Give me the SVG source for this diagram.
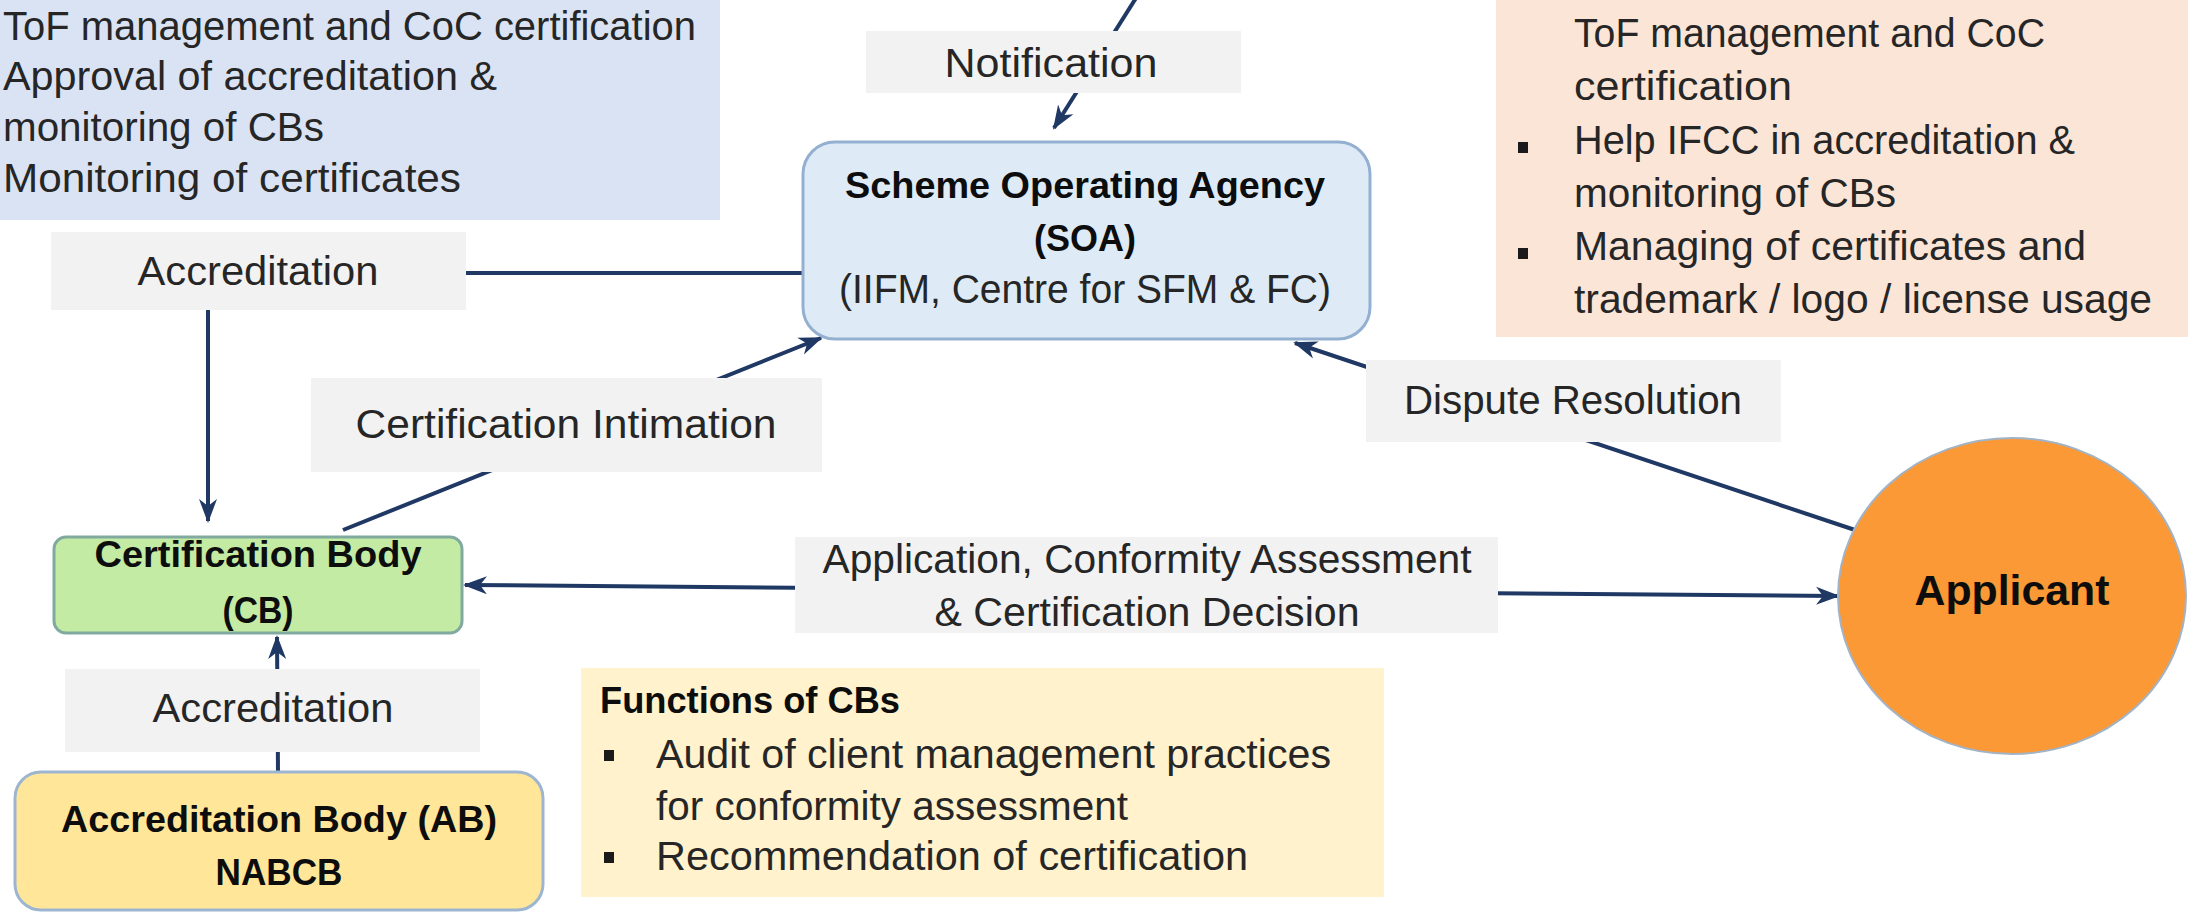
<svg xmlns="http://www.w3.org/2000/svg" width="2191" height="914" viewBox="0 0 2191 914">
  <defs>
    <style>
      .t { font-family: "Liberation Sans", Arial, sans-serif; font-size: 40px; fill: #262626; }
      .b { font-family: "Liberation Sans", Arial, sans-serif; font-weight: bold; fill: #0d0d0d; }
      .mid { text-anchor: middle; }
      .lbl { fill: #f2f2f2; }
      .conn { fill: none; stroke: #203864; stroke-width: 4; }
      .bullet { fill: #1a1a1a; }
    </style>
    <marker id="arrow" markerUnits="userSpaceOnUse" viewBox="0 0 24 20" markerWidth="24" markerHeight="20" refX="22" refY="10" orient="auto-start-reverse">
      <path d="M0,1 L24,10 L0,19 L7,10 Z" fill="#203864"/>
    </marker>
  </defs>

  <rect width="2191" height="914" fill="#ffffff"/>

  <!-- IFCC responsibilities panel -->
  <g id="ifcc-panel">
    <rect x="-10" y="-10" width="730" height="230" fill="#dae3f3"/>
    <text class="t" x="3" y="40" textLength="693" lengthAdjust="spacingAndGlyphs">ToF management and CoC certification</text>
    <text class="t" x="3" y="90" textLength="494" lengthAdjust="spacingAndGlyphs">Approval of accreditation &amp;</text>
    <text class="t" x="3" y="141" textLength="321" lengthAdjust="spacingAndGlyphs">monitoring of CBs</text>
    <text class="t" x="3" y="192" textLength="458" lengthAdjust="spacingAndGlyphs">Monitoring of certificates</text>
  </g>

  <!-- SOA functions panel -->
  <g id="soa-panel">
    <rect x="1496" y="-10" width="692" height="347" fill="#fbe5d6"/>
    <text class="t" x="1574" y="47" textLength="471" lengthAdjust="spacingAndGlyphs">ToF management and CoC</text>
    <text class="t" x="1574" y="100" textLength="218" lengthAdjust="spacingAndGlyphs">certification</text>
    <rect class="bullet" x="1518" y="142" width="10" height="11"/>
    <text class="t" x="1574" y="154" textLength="501" lengthAdjust="spacingAndGlyphs">Help IFCC in accreditation &amp;</text>
    <text class="t" x="1574" y="207" textLength="322" lengthAdjust="spacingAndGlyphs">monitoring of CBs</text>
    <rect class="bullet" x="1518" y="248" width="10" height="11"/>
    <text class="t" x="1574" y="260" textLength="512" lengthAdjust="spacingAndGlyphs">Managing of certificates and</text>
    <text class="t" x="1574" y="313" textLength="578" lengthAdjust="spacingAndGlyphs">trademark / logo / license usage</text>
  </g>

  <!-- CB functions panel -->
  <g id="cb-panel">
    <rect x="581" y="668" width="803" height="229" fill="#fff2cc"/>
    <text class="b" x="600" y="713" font-size="36" textLength="300" lengthAdjust="spacingAndGlyphs">Functions of CBs</text>
    <rect class="bullet" x="604" y="750" width="10" height="11"/>
    <text class="t" x="656" y="768" textLength="675" lengthAdjust="spacingAndGlyphs">Audit of client management practices</text>
    <text class="t" x="656" y="820" textLength="472" lengthAdjust="spacingAndGlyphs">for conformity assessment</text>
    <rect class="bullet" x="604" y="852" width="10" height="11"/>
    <text class="t" x="656" y="870" textLength="592" lengthAdjust="spacingAndGlyphs">Recommendation of certification</text>
  </g>

  <!-- connectors and their labels -->
  <g id="connectors">
    <line class="conn" x1="1136" y1="-2" x2="1054" y2="128" marker-end="url(#arrow)"/>
    <polyline class="conn" points="803,273 208,273 208,521" marker-end="url(#arrow)"/>
    <line class="conn" x1="343" y1="530" x2="821" y2="338" marker-end="url(#arrow)"/>
    <line class="conn" x1="1855" y1="530" x2="1295" y2="343" marker-end="url(#arrow)"/>
    <line class="conn" x1="465" y1="585" x2="1838" y2="596" marker-start="url(#arrow)" marker-end="url(#arrow)"/>
    <line class="conn" x1="278" y1="772" x2="277" y2="637" marker-end="url(#arrow)"/>

    <rect class="lbl" x="866" y="31" width="375" height="62"/>
    <text class="t mid" x="1051" y="77" textLength="213" lengthAdjust="spacingAndGlyphs">Notification</text>

    <rect class="lbl" x="51" y="232" width="415" height="78"/>
    <text class="t mid" x="258" y="285" textLength="241" lengthAdjust="spacingAndGlyphs">Accreditation</text>

    <rect class="lbl" x="311" y="378" width="511" height="94"/>
    <text class="t mid" x="566" y="438" textLength="421" lengthAdjust="spacingAndGlyphs">Certification Intimation</text>

    <rect class="lbl" x="1366" y="360" width="415" height="82"/>
    <text class="t mid" x="1573" y="414" textLength="338" lengthAdjust="spacingAndGlyphs">Dispute Resolution</text>

    <rect class="lbl" x="795" y="537" width="703" height="96"/>
    <text class="t mid" x="1147" y="573" textLength="649" lengthAdjust="spacingAndGlyphs">Application, Conformity Assessment</text>
    <text class="t mid" x="1147" y="626" textLength="425" lengthAdjust="spacingAndGlyphs">&amp; Certification Decision</text>

    <rect class="lbl" x="65" y="669" width="415" height="83"/>
    <text class="t mid" x="273" y="722" textLength="241" lengthAdjust="spacingAndGlyphs">Accreditation</text>
  </g>

  <!-- Scheme Operating Agency -->
  <g id="soa">
    <rect x="803" y="142" width="567" height="197" rx="32" fill="#deebf7" stroke="#93b0d0" stroke-width="3"/>
    <text class="b mid" x="1085" y="198" font-size="37" textLength="480" lengthAdjust="spacingAndGlyphs">Scheme Operating Agency</text>
    <text class="b mid" x="1085" y="251" font-size="37" textLength="102" lengthAdjust="spacingAndGlyphs">(SOA)</text>
    <text class="t mid" x="1085" y="303" textLength="492" lengthAdjust="spacingAndGlyphs">(IIFM, Centre for SFM &amp; FC)</text>
  </g>

  <!-- Certification Body -->
  <g id="cb">
    <rect x="54" y="537" width="408" height="96" rx="12" fill="#c3eba3" stroke="#80aaa0" stroke-width="3"/>
    <text class="b mid" x="258" y="567" font-size="36" textLength="327" lengthAdjust="spacingAndGlyphs">Certification Body</text>
    <text class="b mid" x="258" y="623" font-size="36" textLength="71" lengthAdjust="spacingAndGlyphs">(CB)</text>
  </g>

  <!-- Accreditation Body -->
  <g id="ab">
    <rect x="15" y="772" width="528" height="138" rx="26" fill="#ffe699" stroke="#9db5d1" stroke-width="3"/>
    <text class="b mid" x="279" y="832" font-size="37" textLength="436" lengthAdjust="spacingAndGlyphs">Accreditation Body (AB)</text>
    <text class="b mid" x="279" y="885" font-size="37" textLength="127" lengthAdjust="spacingAndGlyphs">NABCB</text>
  </g>

  <!-- Applicant -->
  <g id="applicant">
    <ellipse cx="2012" cy="596" rx="174" ry="158" fill="#fa9935" stroke="#a3b3c6" stroke-width="2"/>
    <text class="b mid" x="2012" y="605" font-size="43" textLength="195" lengthAdjust="spacingAndGlyphs">Applicant</text>
  </g>
</svg>
